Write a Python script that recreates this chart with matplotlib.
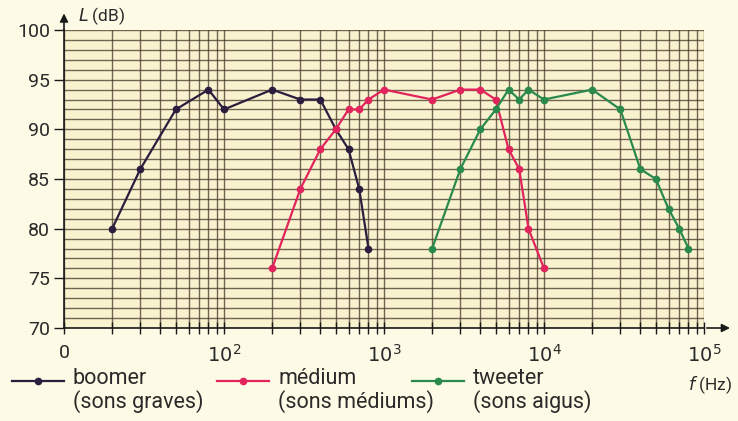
import matplotlib
matplotlib.use("Agg")
import matplotlib.pyplot as plt
from matplotlib.lines import Line2D
from matplotlib.ticker import LogLocator, NullFormatter, FixedLocator
import numpy as np

plt.rcParams['font.family'] = ['Roboto', 'DejaVu Sans']

# Data
boomer_f = [20, 30, 50, 80, 100, 200, 300, 400, 500, 600, 700, 800]
boomer_L = [80, 86, 92, 94, 92, 94, 93, 93, 90, 88, 84, 78]

medium_f = [200, 300, 400, 500, 600, 700, 800, 1000, 2000, 3000, 4000, 5000,
            6000, 7000, 8000, 10000]
medium_L = [76, 84, 88, 90, 92, 92, 93, 94, 93, 94, 94, 93, 88, 86, 80, 76]

tweeter_f = [2000, 3000, 4000, 5000, 6000, 7000, 8000, 10000, 20000, 30000,
             40000, 50000, 60000, 70000, 80000]
tweeter_L = [78, 86, 90, 92, 94, 93, 94, 93, 94, 92, 86, 85, 82, 80, 78]

y_ticks = [70, 75, 80, 85, 90, 95, 100]
x_ticks = [10, 100, 1000, 10000, 100000]
x_tick_labels = ['0', r'$10^2$', r'$10^3$', r'$10^4$', r'$10^5$']

series_names = ['boomer', 'médium', 'tweeter']
series_sub = ['(sons graves)', '(sons médiums)', '(sons aigus)']
colors = ['#2b1d3d', '#e2245c', '#2a8a4c']

W, H = 738, 421
fig = plt.figure(figsize=(W / 100, H / 100), dpi=100)
fig.patch.set_facecolor('#fdfae6')
ax = fig.add_axes([64 / W, 93 / H, 640 / W, 298 / H])
ax.set_facecolor('#f9f2cf')
ax.set_xscale('log')
ax.set_xlim(10, 1e5)
ax.set_ylim(70, 100)

grid_c = '#4f4230'
ax.xaxis.set_major_locator(FixedLocator(x_ticks))
ax.xaxis.set_minor_locator(LogLocator(base=10, subs=np.arange(2, 10)))
ax.xaxis.set_minor_formatter(NullFormatter())
ax.set_xticklabels(x_tick_labels)
ax.yaxis.set_major_locator(FixedLocator(y_ticks))
ax.yaxis.set_minor_locator(FixedLocator(list(range(70, 101))))
ax.grid(True, which='both', axis='both', color=grid_c, linewidth=1.0, alpha=0.8)
ax.set_axisbelow(True)

for s in ['top', 'right']:
    ax.spines[s].set_visible(False)
for s in ['left', 'bottom']:
    ax.spines[s].set_color('#1a1a1a')
    ax.spines[s].set_linewidth(1.2)

ax.tick_params(axis='x', which='both', direction='inout', length=9, width=1,
               color='#1a1a1a', labelsize=14, labelcolor='#2a2a2a', pad=7)
ax.tick_params(axis='y', which='major', direction='out', length=7, width=1,
               color='#1a1a1a', labelsize=14, labelcolor='#2a2a2a', pad=3)
ax.tick_params(axis='y', which='minor', length=0)

# arrows
ax.annotate('', xy=(1.045, 0), xytext=(1.0, 0), xycoords='axes fraction',
            arrowprops=dict(arrowstyle='-|>', color='#1a1a1a', lw=1.2,
                            mutation_scale=12), annotation_clip=False)
ax.annotate('', xy=(0, 1.065), xytext=(0, 0.99), xycoords='axes fraction',
            arrowprops=dict(arrowstyle='-|>', color='#1a1a1a', lw=1.2,
                            mutation_scale=12), annotation_clip=False)

fig.text(78 / W, 1 - 16 / H, r'$\it{L}$ (dB)', fontsize=12.5, color='#2a2a2a',
         ha='left', va='center')
fig.text(688 / W, 1 - 385 / H, r'$\it{f}$ (Hz)', fontsize=12.5, color='#2a2a2a',
         ha='left', va='center')

for f, L, c in [(boomer_f, boomer_L, colors[0]), (medium_f, medium_L, colors[1]),
                (tweeter_f, tweeter_L, colors[2])]:
    ax.plot(f, L, color=c, lw=1.6, marker='o', markersize=4.5, zorder=3)

# legend
leg_x = [12, 217, 412]
for x0, name, sub, c in zip(leg_x, series_names, series_sub, colors):
    y = 1 - 381 / H
    fig.add_artist(Line2D([x0 / W, (x0 + 52) / W], [y, y], color=c, lw=1.6,
                          transform=fig.transFigure))
    fig.add_artist(Line2D([(x0 + 26) / W], [y], color=c, marker='o', markersize=4.5,
                          transform=fig.transFigure))
    fig.text((x0 + 61) / W, 1 - 379 / H, name, fontsize=15.5, color='#2a2a2a',
             ha='left', va='center')
    fig.text((x0 + 61) / W, 1 - 402 / H, sub, fontsize=15.5, color='#2a2a2a',
             ha='left', va='center')

fig.savefig('out.png', dpi=100, facecolor=fig.get_facecolor())
